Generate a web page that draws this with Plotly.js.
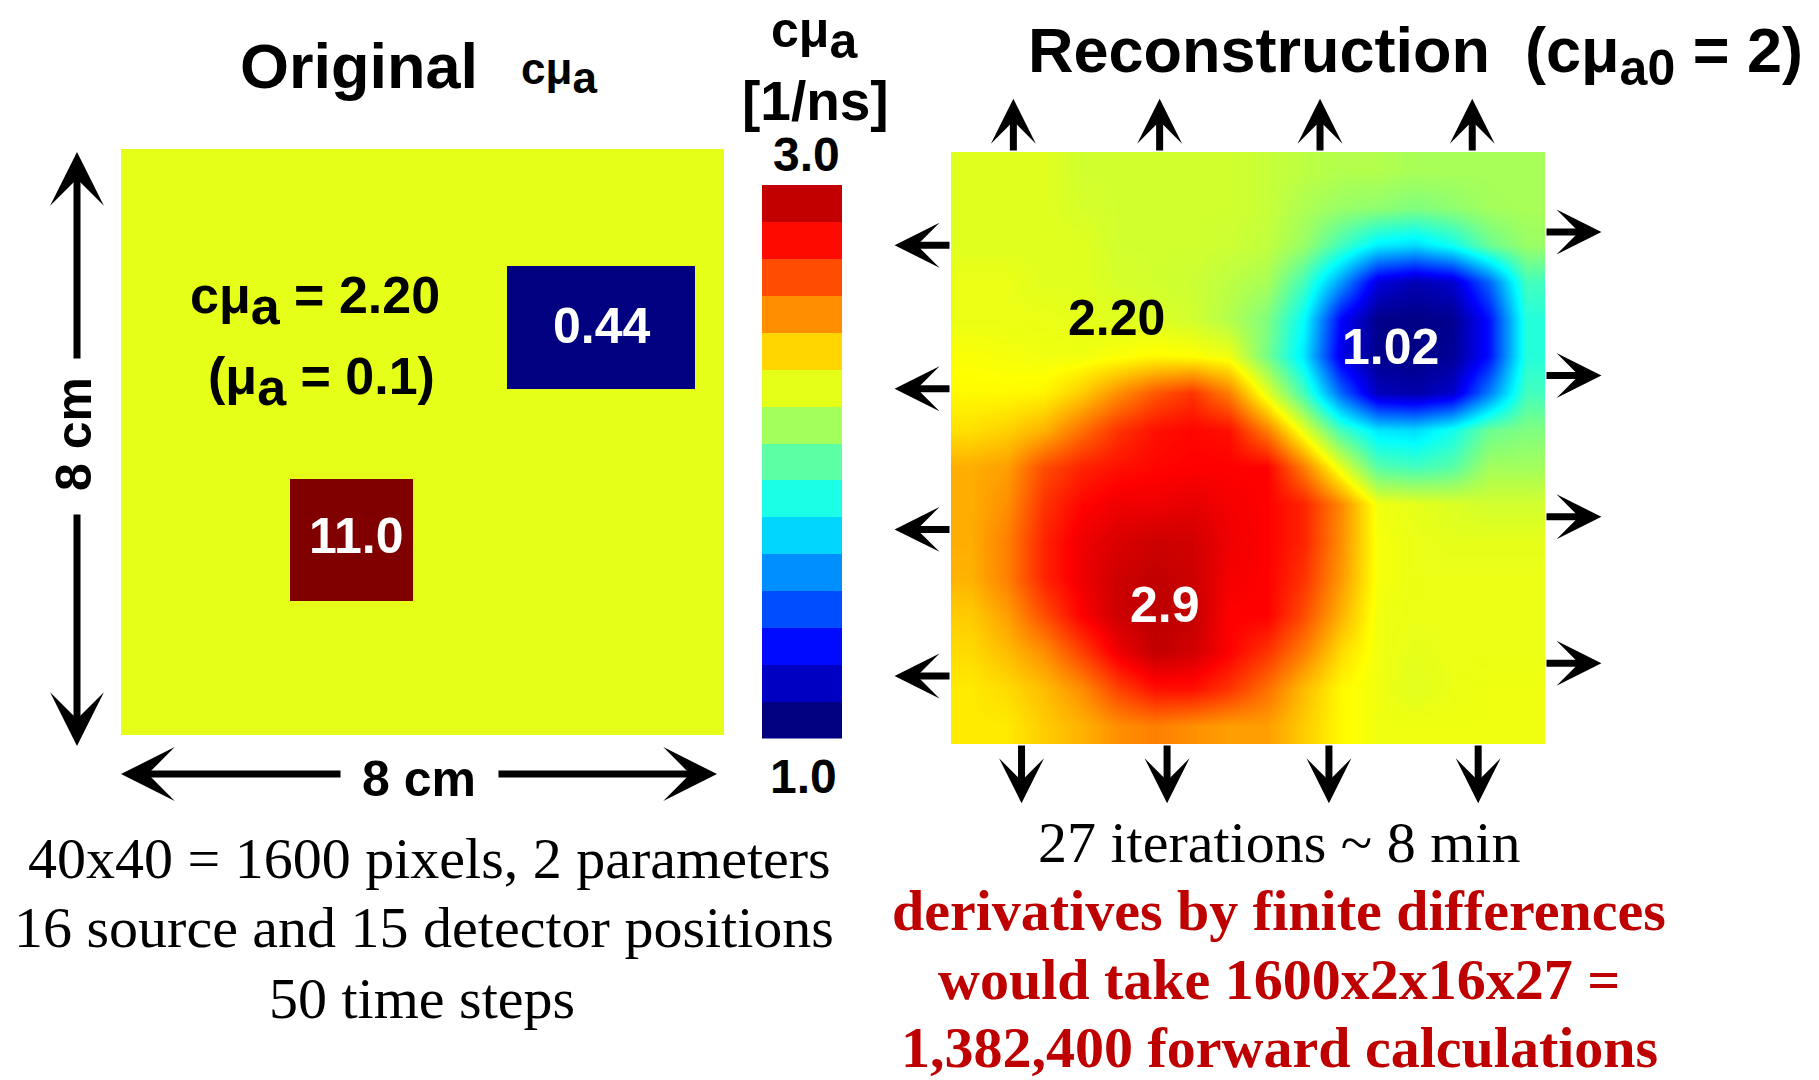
<!DOCTYPE html>
<html>
<head>
<meta charset="utf-8">
<script src="https://cdn.plot.ly/plotly-3.0.1.min.js"></script>
<style>html,body{margin:0;padding:0;background:#fff;}#chart{width:1819px;height:1080px;}</style>
</head>
<body>
<div id="chart"></div>
<script>
// ---------------- DATA ----------------
// Original cμa map (cm, y measured from top); bins given by edges
const origXEdges = [0, 2.24, 3.87, 5.12, 7.62, 8];
const origYEdges = [0, 1.6, 3.27, 4.51, 6.17, 8];
const origZ = [
  [2.2, 2.2, 2.2, 2.2, 2.2],
  [2.2, 2.2, 2.2, 0.44, 2.2],
  [2.2, 2.2, 2.2, 2.2, 2.2],
  [2.2, 11.0, 2.2, 2.2, 2.2],
  [2.2, 2.2, 2.2, 2.2, 2.2]
];

// Reconstruction (cμa0 = 2), 16x16 cells, rows from top to bottom
const reconX = [0.25,0.75,1.25,1.75,2.25,2.75,3.25,3.75,4.25,4.75,5.25,5.75,6.25,6.75,7.25,7.75];
const reconY = [0.25,0.75,1.25,1.75,2.25,2.75,3.25,3.75,4.25,4.75,5.25,5.75,6.25,6.75,7.25,7.75];
const reconZ = [
  [2.19,2.19,2.19,2.16,2.16,2.16,2.16,2.16, 2.14,2.12,2.10,2.10,2.08,2.08,2.08,2.08],
  [2.19,2.19,2.19,2.17,2.16,2.16,2.16,2.16, 2.14,2.09,2.05,2.03,2.00,2.03,2.07,2.08],
  [2.19,2.19,2.19,2.19,2.16,2.16,2.16,2.15, 2.13,2.05,1.88,1.72,1.68,1.78,1.96,2.05],
  [2.21,2.21,2.19,2.19,2.17,2.16,2.15,2.12, 2.08,1.88,1.55,1.18,1.10,1.15,1.45,1.88],
  [2.21,2.21,2.21,2.20,2.19,2.18,2.16,2.10, 2.00,1.75,1.25,1.02,1.01,1.03,1.28,1.82],
  [2.24,2.23,2.22,2.22,2.24,2.26,2.25,2.22, 1.98,1.70,1.20,1.02,1.01,1.04,1.28,1.82],
  [2.26,2.26,2.27,2.35,2.47,2.58,2.65,2.50, 2.20,1.88,1.45,1.12,1.08,1.15,1.50,1.88],
  [2.31,2.34,2.40,2.53,2.65,2.72,2.74,2.72, 2.50,2.20,1.88,1.70,1.68,1.78,1.96,2.00],
  [2.41,2.44,2.60,2.68,2.72,2.74,2.75,2.75, 2.75,2.50,2.20,1.92,1.88,1.92,2.07,2.07],
  [2.41,2.47,2.65,2.74,2.78,2.78,2.80,2.77, 2.75,2.68,2.48,2.22,2.20,2.18,2.16,2.16],
  [2.41,2.50,2.68,2.78,2.82,2.85,2.84,2.78, 2.75,2.68,2.47,2.23,2.21,2.20,2.20,2.20],
  [2.40,2.50,2.68,2.78,2.85,2.87,2.85,2.77, 2.75,2.65,2.45,2.23,2.21,2.21,2.21,2.21],
  [2.35,2.44,2.60,2.75,2.85,2.88,2.87,2.75, 2.75,2.60,2.40,2.22,2.21,2.21,2.21,2.21],
  [2.32,2.38,2.47,2.62,2.78,2.87,2.84,2.75, 2.65,2.50,2.32,2.22,2.20,2.21,2.21,2.21],
  [2.29,2.32,2.38,2.47,2.62,2.72,2.72,2.65, 2.53,2.38,2.26,2.22,2.19,2.21,2.22,2.22],
  [2.29,2.29,2.35,2.40,2.47,2.50,2.47,2.44, 2.44,2.35,2.26,2.22,2.22,2.22,2.22,2.22]
];

// Colour bar levels (1.0 .. 3.0 in 15 steps, bottom to top)
const cbarLevels = [1.00,1.13,1.27,1.40,1.53,1.67,1.80,1.93,2.07,2.20,2.33,2.47,2.60,2.73,2.87];
const cbarMin = "1.0", cbarMax = "3.0";

// Source / detector arrow positions on the reconstruction (cm; y from top)
const topArrowX = [0.84, 2.81, 4.97, 7.02];
const bottomArrowX = [0.95, 2.91, 5.09, 7.10];
const leftArrowY = [1.26, 3.20, 5.10, 7.08];
const rightArrowY = [1.08, 3.02, 4.93, 6.91];

// Value labels
const reconLabels = [
  {text: "2.20", x: 1116, y: 318, color: "#000000"},
  {text: "1.02", x: 1390, y: 347, color: "#FFFFFF"},
  {text: "2.9",  x: 1165, y: 605, color: "#FFFFFF"}
];
const notesLeft = ["40x40 = 1600 pixels, 2 parameters", "16 source and 15 detector positions", "50 time steps"];
const notesRight = ["27 iterations ~ 8 min"];
const notesRed = ["derivatives by finite differences", "would take 1600x2x16x27 =", "1,382,400 forward calculations"];

// ---------------- STYLE / LAYOUT ----------------
const W = 1819, H = 1080;
const px = v => v / W;
const py = v => 1 - v / H;
const SANS = "Liberation Sans, Arial, Helvetica, sans-serif";
const SERIF = "Liberation Serif, Times New Roman, serif";
const jet = [[0,'#000080'],[0.125,'#0000FF'],[0.375,'#00FFFF'],[0.625,'#FFFF00'],[0.875,'#FF0000'],[1,'#800000']];

const traces = [
  {type:'heatmap', x: origXEdges, y: origYEdges, z: origZ, colorscale: jet, zmin: 1, zmax: 3,
   showscale: false, xaxis: 'x', yaxis: 'y', hoverinfo: 'skip'},
  {type:'heatmap', x: reconX, y: reconY, z: reconZ, colorscale: jet, zmin: 1, zmax: 3, zsmooth: 'best',
   showscale: false, xaxis: 'x2', yaxis: 'y2', hoverinfo: 'skip'},
  {type:'heatmap', z: cbarLevels.map(v => [v]), colorscale: jet, zmin: 1, zmax: 3,
   showscale: false, xaxis: 'x3', yaxis: 'y3', hoverinfo: 'skip'}
];

const hidden = {visible: false, showgrid: false, zeroline: false, fixedrange: true};
const ann = [];
function txt(text, x, y, size, opts) {
  ann.push(Object.assign({text: text, xref: 'paper', yref: 'paper', x: px(x), y: py(y),
    showarrow: false, xanchor: 'center', yanchor: 'middle',
    font: {family: SANS, size: size, color: '#000'}}, opts || {}));
}
function arrowData(xh, yh, xt, yt) {
  ann.push({text: '', xref: 'x2', yref: 'y2', axref: 'x2', ayref: 'y2',
    x: xh, y: yh, ax: xt, ay: yt, showarrow: true, arrowhead: 3, arrowsize: 1.07,
    arrowwidth: 7, arrowcolor: '#000', standoff: 0, startstandoff: 0});
}
function arrowPx(x, y, dx, dy) {
  ann.push({text: '', xref: 'paper', yref: 'paper', x: px(x), y: py(y), ax: dx, ay: dy,
    showarrow: true, arrowhead: 3, arrowsize: 1.28, arrowwidth: 7, arrowcolor: '#000',
    standoff: 0, startstandoff: 0});
}

// titles
txt('<b>Original</b>', 359, 66, 63);
txt('<b>cμ<sub><span style="font-size:44px">a</span></sub></b>', 519, 73, 44, {xanchor: 'left'});
txt('<b>cμ<sub><span style="font-size:50px">a</span></sub></b>', 814, 36, 50);
txt('<b>[1/ns]</b>', 815, 101, 55);
txt('<b>' + cbarMax + '</b>', 806, 154, 48);
txt('<b>' + cbarMin + '</b>', 803, 776, 48);
txt('<b>Reconstruction&nbsp;&nbsp;(cμ<sub><span style="font-size:50px">a0</span></sub> = 2)</b>', 1026, 55, 63, {xanchor: 'left'});

// left panel labels
txt('<b>cμ<sub><span style="font-size:52px">a</span></sub> = 2.20</b>', 315, 300, 52);
txt('<b>(μ<sub><span style="font-size:52px">a</span></sub> = 0.1)</b>', 321, 381, 52);
txt('<b>0.44</b>', 602, 326, 50, {font: {family: SANS, size: 50, color: '#fff'}});
txt('<b>11.0</b>', 356, 536, 50, {font: {family: SANS, size: 50, color: '#fff'}});

// dimension arrows (two halves each, gap for the label)
arrowPx(77, 152, 0, 208);
arrowPx(77, 746, 0, -233);
arrowPx(121, 774, 221, 0);
arrowPx(717, 774, -220, 0);
txt('<b>8 cm</b>', 419, 779, 50);
txt('<b>8 cm</b>', 74, 434, 50, {textangle: -90});

// source / detector arrows
topArrowX.forEach(x => arrowData(x, -0.72, x, 0));
bottomArrowX.forEach(x => arrowData(x, 8.8, x, 8));
leftArrowY.forEach(y => arrowData(-0.76, y, 0, y));
rightArrowY.forEach(y => arrowData(8.76, y, 8, y));

// reconstruction labels
reconLabels.forEach(l => txt('<b>' + l.text + '</b>', l.x, l.y, 50, {font: {family: SANS, size: 50, color: l.color}}));

// notes
const leftNoteY = [858, 927, 998], leftNoteX = [429, 424, 422];
notesLeft.forEach((t, i) => txt(t, leftNoteX[i], leftNoteY[i], 58, {font: {family: SERIF, size: 58, color: '#000'}}));
txt(notesRight[0], 1279, 842, 58, {font: {family: SERIF, size: 58, color: '#000'}});
const redY = [910, 979, 1047];
notesRed.forEach((t, i) => txt('<b>' + t + '</b>', 1279, redY[i], 58, {font: {family: SERIF, size: 58, color: '#BF0000'}}));

const layout = {
  width: W, height: H, margin: {l: 0, r: 0, t: 0, b: 0},
  paper_bgcolor: '#fff', plot_bgcolor: '#fff', showlegend: false,
  xaxis: Object.assign({}, hidden, {domain: [px(121), px(724)], range: [0, 8]}),
  yaxis: Object.assign({}, hidden, {domain: [py(735), py(149)], range: [8, 0]}),
  xaxis2: Object.assign({}, hidden, {domain: [px(951), px(1545)], range: [0, 8], anchor: 'y2'}),
  yaxis2: Object.assign({}, hidden, {domain: [py(744), py(152)], range: [8, 0], anchor: 'x2'}),
  xaxis3: Object.assign({}, hidden, {domain: [px(762), px(842)], range: [-0.5, 0.5], anchor: 'y3'}),
  yaxis3: Object.assign({}, hidden, {domain: [py(738.5), py(185)], range: [-0.5, 14.5], anchor: 'x3'}),
  annotations: ann
};

Plotly.newPlot('chart', traces, layout, {staticPlot: true, displayModeBar: false});
</script>
</body>
</html>
